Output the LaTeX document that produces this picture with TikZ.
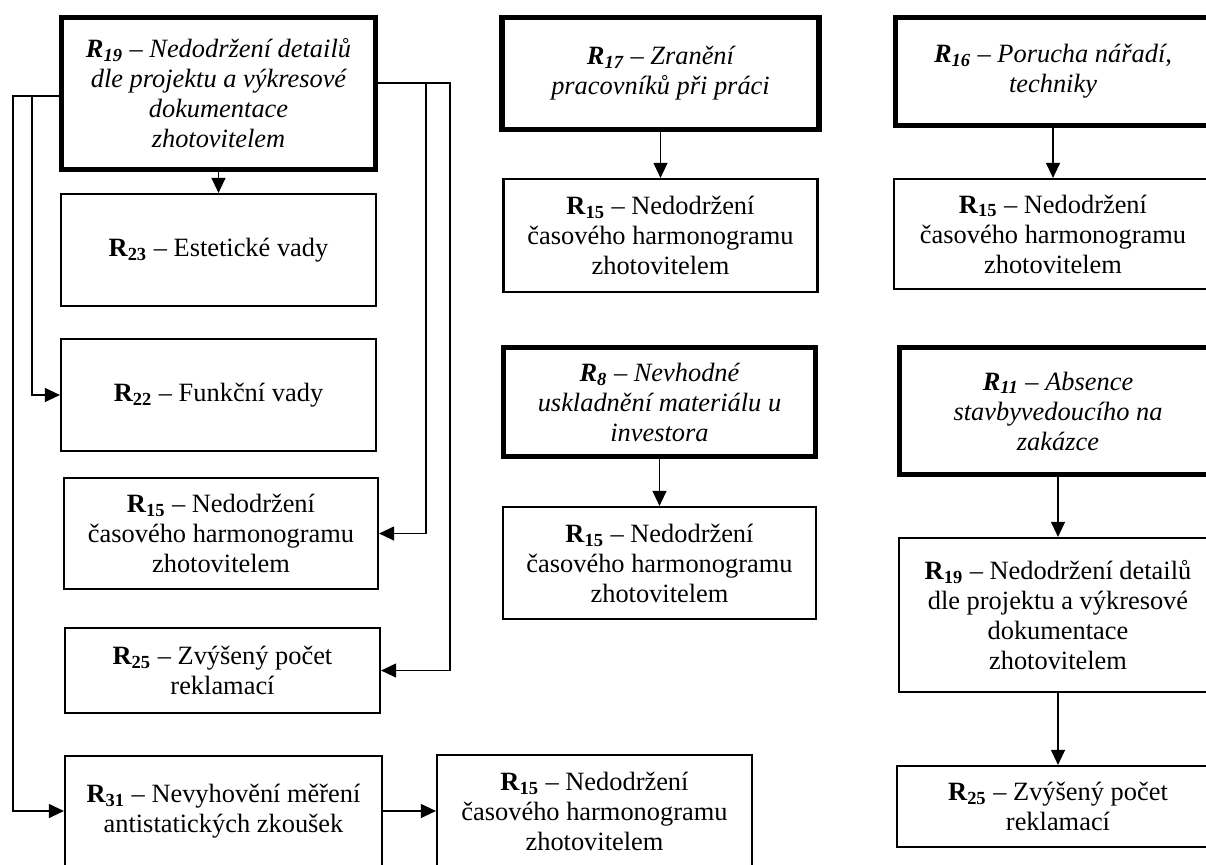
\documentclass[tikz,border=0pt]{standalone}
\usepackage{fontspec}
\setmainfont{Liberation Serif}
\usepackage{tikz}
\usetikzlibrary{arrows.meta,positioning}

\newcommand{\rr}[1]{\textbf{R\textsubscript{#1}}}

\begin{document}
\begin{tikzpicture}[
    x=0.5pt, y=-0.5pt,
    box/.style={rectangle, draw, line width=1.1pt, align=center, inner sep=0pt,
        font=\fontsize{13.2pt}{15pt}\selectfont},
    bigbox/.style={rectangle, draw, line width=2.8pt, align=center, inner sep=0pt,
        font=\fontsize{13.2pt}{15pt}\selectfont\itshape},
    arrow/.style={-{Triangle[length=7.5pt, width=7pt]}, line width=0.6pt}
]
\useasboundingbox (0,0) rectangle (1206,864);
\clip (0,0) rectangle (1206,864);

% Left column
\node[bigbox, minimum width=157pt, minimum height=76pt] (r19) at (218.5,93.5)
    {\rr{19} – Nedodržení detailů\\dle projektu a výkresové\\dokumentace\\zhotovitelem};
\node[box, minimum width=157.5pt, minimum height=56pt] (r23) at (218.5,250)
    {\rr{23} – Estetické vady};
\node[box, minimum width=157.5pt, minimum height=56pt] (r22) at (218.5,395)
    {\rr{22} – Funkční vady};
\node[box, minimum width=157pt, minimum height=55.5pt] (r15a) at (221,533.5)
    {\rr{15} – Nedodržení\\časového harmonogramu\\zhotovitelem};
\node[box, minimum width=157.5pt, minimum height=42.5pt] (r25a) at (222.5,670.5)
    {\rr{25} – Zvýšený počet\\reklamací};
\node[box, minimum width=158.5pt, minimum height=55pt] (r31) at (223.5,811)
    {\rr{31} – Nevyhovění měření\\antistatických zkoušek};
\node[box, minimum width=157.5pt, minimum height=56pt] (r15b) at (594.5,811)
    {\rr{15} – Nedodržení\\časového harmonogramu\\zhotovitelem};

% Middle column
\node[bigbox, minimum width=158.5pt, minimum height=56pt] (r17) at (660.5,73.5)
    {\rr{17} – Zranění\\pracovníků při práci};
\node[box, minimum width=157pt, minimum height=56.5pt] (r15c) at (660.5,235.5)
    {\rr{15} – Nedodržení\\časového harmonogramu\\zhotovitelem};
\node[bigbox, minimum width=156pt, minimum height=54.5pt] (r8) at (659.5,402)
    {\rr{8} – Nevhodné\\uskladnění materiálu u\\investora};
\node[box, minimum width=156.5pt, minimum height=56pt] (r15d) at (659.5,563)
    {\rr{15} – Nedodržení\\časového harmonogramu\\zhotovitelem};

% Right column
\node[bigbox, minimum width=157.5pt, minimum height=54pt] (r16) at (1053,71.5)
    {\rr{16} – Porucha nářadí,\\techniky};
\node[box, minimum width=159pt, minimum height=55pt] (r15e) at (1053,234)
    {\rr{15} – Nedodržení\\časového harmonogramu\\zhotovitelem};
\node[bigbox, minimum width=158.5pt, minimum height=63.5pt] (r11) at (1058,411)
    {\rr{11} – Absence\\stavbyvedoucího na\\zakázce};
\node[box, minimum width=159pt, minimum height=77pt] (r19b) at (1058,615)
    {\rr{19} – Nedodržení detailů\\dle projektu a výkresové\\dokumentace\\zhotovitelem};
\node[box, minimum width=161pt, minimum height=40.5pt] (r25b) at (1058,806.5)
    {\rr{25} – Zvýšený počet\\reklamací};

% Bend points
\coordinate (lout) at (13,96);
\coordinate (lin) at (32,96);
\coordinate (rin) at (426,83);
\coordinate (rout) at (450,83);

% Arrows left
\draw[arrow] (r19) -- (r23);
\draw[arrow] (r19.west |- lout) -- (lout) |- (r31.west);
\draw[arrow] (lin) |- (r22.west);
\draw[arrow] (r19.east |- rout) -- (rout) |- (r25a.east);
\draw[arrow] (rin) |- (r15a.east);
\draw[arrow] (r31) -- (r15b);

% Arrows middle and right
\draw[arrow] (r17) -- (r15c);
\draw[arrow] (r8) -- (r15d);
\draw[arrow] (r16) -- (r15e);
\draw[arrow] (r11) -- (r19b);
\draw[arrow] (r19b) -- (r25b);

\end{tikzpicture}
\end{document}
